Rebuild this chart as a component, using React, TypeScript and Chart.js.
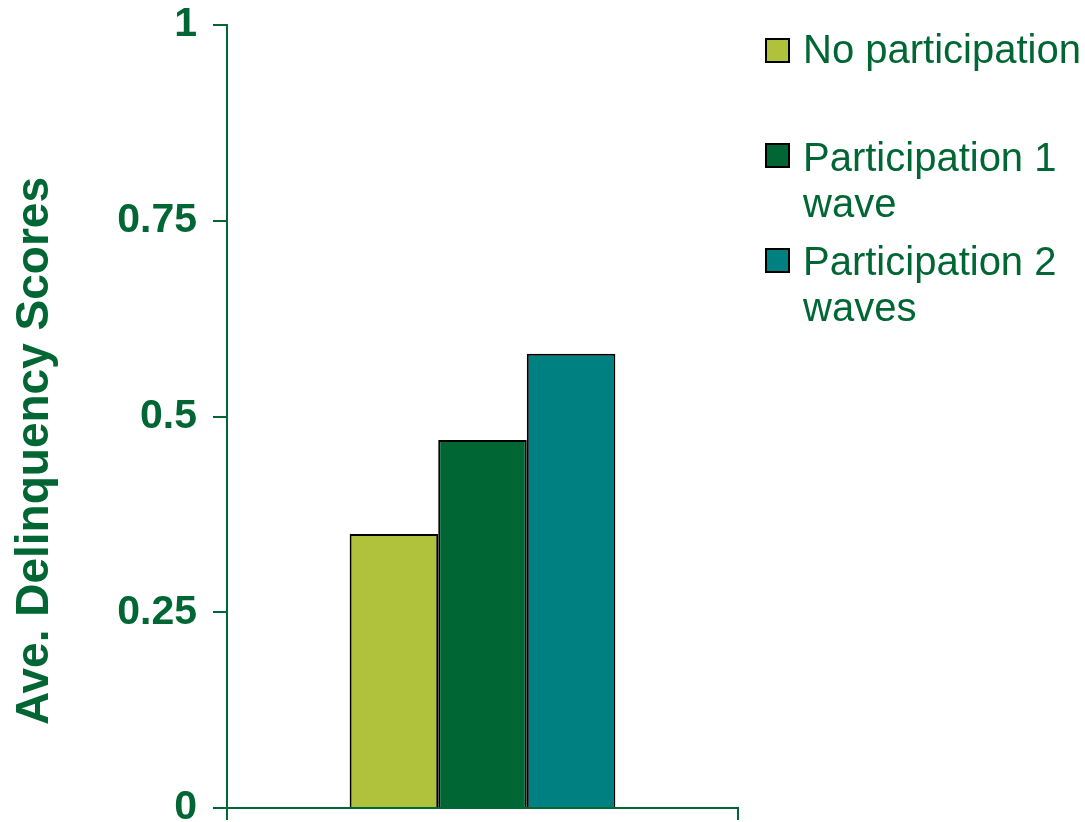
import React, { useEffect, useRef } from 'react';
import { Chart, registerables } from 'chart.js';

Chart.register(...registerables);

// Chart data
const categories = [''];
const noParticipation = [0.35];
const oneWave = [0.47];
const twoWaves = [0.58];
const seriesNames = ['No participation', 'Participation 1 wave', 'Participation 2 waves'];
const legendLines = [['No participation'], ['Participation 1', 'wave'], ['Participation 2', 'waves']];
const seriesColors = ['#b0c13b', '#006633', '#008080'];
const yMin = 0;
const yMax = 1;
const yStep = 0.25;
const axisTitle = 'Ave. Delinquency Scores';

const GREEN = '#006633';
const FONT = '"Liberation Sans", Arial, Helvetica, sans-serif';

// Rotated y-axis title, placed a little below the axis centre
const yTitlePlugin = {
  id: 'yTitle',
  afterDraw(chart: any) {
    const { ctx, chartArea } = chart;
    ctx.save();
    ctx.translate(48, chartArea.bottom - 357);
    ctx.rotate(-Math.PI / 2);
    ctx.font = `bold 46px ${FONT}`;
    ctx.fillStyle = GREEN;
    ctx.textAlign = 'center';
    ctx.textBaseline = 'alphabetic';
    ctx.fillText(axisTitle, 0, 0);
    ctx.restore();
  },
};

const legendPos = [
  { boxTop: 38, textTop: 26 },
  { boxTop: 143, textTop: 134 },
  { boxTop: 248, textTop: 238 },
];

export default function App() {
  const canvasRef = useRef<HTMLCanvasElement | null>(null);

  useEffect(() => {
    document.body.style.margin = '0';
    const canvas = canvasRef.current;
    if (!canvas) return;
    const series = [noParticipation, oneWave, twoWaves];
    const chart = new Chart(canvas, {
      type: 'bar',
      data: {
        labels: categories,
        datasets: series.map((values, i) => ({
          label: seriesNames[i],
          data: values,
          backgroundColor: seriesColors[i],
          borderColor: '#000000',
          borderWidth: 2,
          categoryPercentage: 0.52,
          barPercentage: 1.0,
        })),
      },
      options: {
        responsive: false,
        animation: false,
        layout: { padding: { top: 25, right: 347, bottom: 0, left: 0 } },
        plugins: {
          legend: { display: false },
          tooltip: { enabled: false },
        },
        scales: {
          x: {
            offset: true,
            grid: {
              offset: true,
              drawOnChartArea: false,
              drawTicks: true,
              tickLength: 12,
              color: GREEN,
              lineWidth: 2,
            },
            border: { display: true, color: GREEN, width: 2 },
            ticks: { display: false },
            afterFit(scale: any) {
              scale.height = 14;
            },
          },
          y: {
            min: yMin,
            max: yMax,
            grid: {
              drawOnChartArea: false,
              drawTicks: true,
              tickLength: 14,
              color: GREEN,
              lineWidth: 2,
            },
            border: { display: true, color: GREEN, width: 2 },
            ticks: {
              stepSize: yStep,
              padding: 16,
              color: GREEN,
              font: { family: FONT, size: 41, weight: 'bold' },
              callback: (v: any) => String(v),
            },
            afterFit(scale: any) {
              scale.width = 227;
              // let the end labels overhang the plot edges
              scale.paddingTop = 0;
              scale.paddingBottom = 0;
            },
          },
        },
      },
      plugins: [yTitlePlugin],
    });
    return () => chart.destroy();
  }, []);

  return (
    <div style={{ position: 'relative', width: 1085, height: 822, background: '#ffffff', overflow: 'hidden' }}>
      <canvas ref={canvasRef} width={1085} height={822} style={{ display: 'block' }} />
      {legendLines.map((lines, i) => (
        <React.Fragment key={i}>
          <div
            style={{
              position: 'absolute',
              left: 765,
              top: legendPos[i].boxTop,
              width: 21,
              height: 21,
              background: seriesColors[i],
              border: '2px solid #000000',
            }}
          />
          <div
            style={{
              position: 'absolute',
              left: 803,
              top: legendPos[i].textTop,
              font: `40px ${FONT}`,
              lineHeight: '46px',
              color: GREEN,
              whiteSpace: 'nowrap',
            }}
          >
            {lines.map((t, j) => (
              <div key={j}>{t}</div>
            ))}
          </div>
        </React.Fragment>
      ))}
    </div>
  );
}
